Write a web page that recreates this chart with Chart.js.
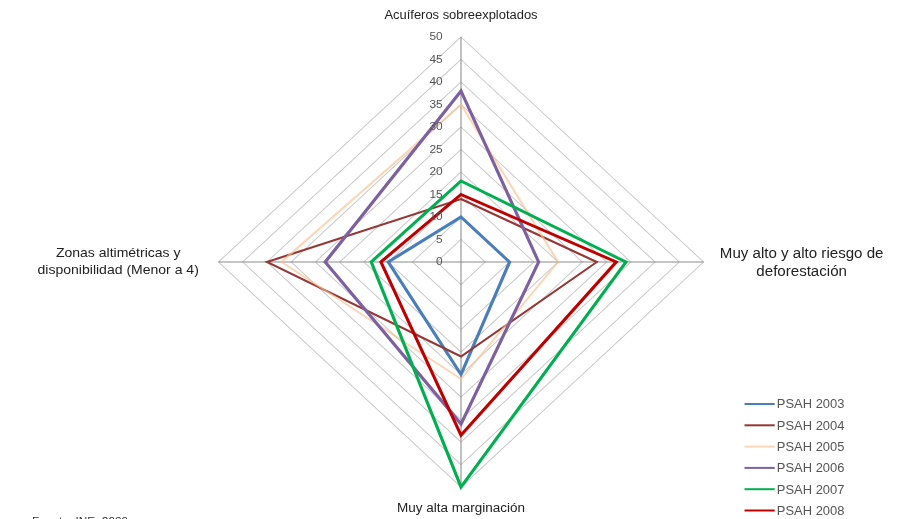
<!DOCTYPE html>
<html>
<head>
<meta charset="utf-8">
<script src="https://cdn.jsdelivr.net/npm/chart.js@4.4.1/dist/chart.umd.min.js"></script>
<style>
  body { margin: 0; background: #fff; }
  canvas { display: block; }
</style>
</head>
<body>
<canvas id="chart" width="901" height="519"></canvas>
<script>
// Axis names (clockwise from the top) and values per year
const axis_labels = [
    ['Acuíferos sobreexplotados'],
    ['Muy alto y alto riesgo de', 'deforestación'],
    ['Muy alta marginación'],
    ['Zonas altimétricas y', 'disponibilidad (Menor a 4)']
];
const series_names = ['PSAH 2003', 'PSAH 2004', 'PSAH 2005', 'PSAH 2006', 'PSAH 2007', 'PSAH 2008'];
const psah_2003 = [10, 10, 25, 15];
const psah_2004 = [14, 28, 21, 40];
const psah_2005 = [35, 20, 26, 37];
const psah_2006 = [38, 16, 36, 28];
const psah_2007 = [18, 34, 50, 18.5];
const psah_2008 = [15, 32, 38.5, 16.5];
const tick_values = [0, 5, 10, 15, 20, 25, 30, 35, 40, 45, 50];
const source_text = 'Fuente: INE, 2009';

const series_colors = ['#4a7ebb', '#953735', 'rgba(250,192,144,0.65)', '#7d60a0', '#00b050', '#c00000'];
const series_widths = [3, 2, 2, 3, 3, 3];

// the original picture is wider than it is tall
const stretch_x = 1.078;
const font_family = '"Liberation Sans", Arial, sans-serif';

const canvas = document.getElementById('chart');

function draw_lines(ctx, lines, x, y, lh) {
    lines.forEach((t, i) => ctx.fillText(t, x, y + i * lh));
}

const stretch_plugin = {
    id: 'stretch',
    beforeDraw(chart) {
        const ctx = chart.ctx;
        const cx = chart.scales.r.xCenter;
        ctx.save();
        ctx.translate(cx, 0);
        ctx.scale(stretch_x, 1);
        ctx.translate(-cx, 0);
    },
    afterDraw(chart) {
        const ctx = chart.ctx;
        const scale = chart.scales.r;
        const cx = scale.xCenter;
        const cy = scale.yCenter;
        const R = scale.drawingArea;

        // tick labels, to the left of the vertical axis
        ctx.font = '11px ' + font_family;
        ctx.fillStyle = '#555';
        ctx.textAlign = 'right';
        ctx.textBaseline = 'middle';
        tick_values.forEach(v => {
            ctx.fillText(String(v), cx - 17, cy - scale.getDistanceFromCenterForValue(v));
        });

        // axis names
        ctx.fillStyle = '#222';
        ctx.textAlign = 'center';
        ctx.font = '12px ' + font_family;
        draw_lines(ctx, axis_labels[0], cx, cy - R - 21, 0);
        ctx.font = '12.5px ' + font_family;
        draw_lines(ctx, axis_labels[2], cx, cy + R + 22, 0);
        ctx.font = '14px ' + font_family;
        draw_lines(ctx, axis_labels[1], cx + R + 91, cy - 8, 18);
        ctx.font = '13px ' + font_family;
        draw_lines(ctx, axis_labels[3], cx - R - 93, cy - 9, 17);

        // legend
        ctx.font = '12px ' + font_family;
        ctx.textAlign = 'left';
        chart.data.datasets.forEach((ds, i) => {
            const y = 404 + i * 21.3;
            ctx.strokeStyle = ds.borderColor;
            ctx.lineWidth = 2;
            ctx.beginPath();
            ctx.moveTo(cx + 263, y);
            ctx.lineTo(cx + 291, y);
            ctx.stroke();
            ctx.fillStyle = '#555';
            ctx.fillText(ds.label, cx + 293, y + 1);
        });

        // source line, cut by the bottom edge
        ctx.font = '11px ' + font_family;
        ctx.fillStyle = '#333';
        ctx.textBaseline = 'alphabetic';
        ctx.fillText(source_text, 63, 525);

        ctx.restore();
    }
};

const all_values = [psah_2003, psah_2004, psah_2005, psah_2006, psah_2007, psah_2008];

const data = {
    labels: axis_labels,
    datasets: all_values.map((vals, i) => ({
        label: series_names[i],
        data: vals,
        borderColor: series_colors[i],
        borderWidth: series_widths[i],
        pointRadius: 0,
        fill: false,
        tension: 0,
        clip: false,
        order: 5 - i
    }))
};

const options = {
    responsive: false,
    animation: false,
    devicePixelRatio: 1,
    layout: { padding: { left: 236, right: 215, top: 37, bottom: 32 } },
    plugins: { legend: { display: false }, tooltip: { enabled: false } },
    scales: {
        r: {
            min: 0,
            max: 50,
            ticks: { stepSize: 5, display: false },
            pointLabels: { display: false },
            grid: { color: '#c8c8c8', lineWidth: 1 },
            angleLines: { color: '#8c8c8c', lineWidth: 1 }
        }
    }
};

new Chart(canvas, { type: 'radar', data: data, options: options, plugins: [stretch_plugin] });
</script>
</body>
</html>
